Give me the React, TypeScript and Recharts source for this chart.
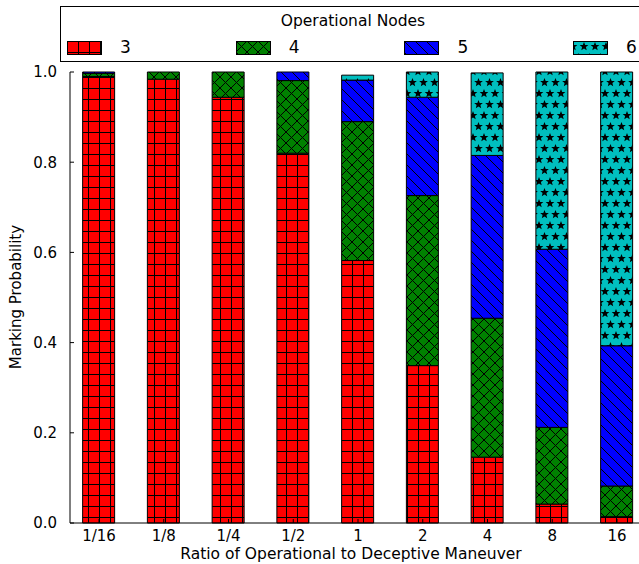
import React from 'react';
import { BarChart, Bar, XAxis, YAxis } from 'recharts';

const RATIOS = ['1/16', '1/8', '1/4', '1/2', '1', '2', '4', '8', '16'];
const NODES_3 = [0.99, 0.984, 0.944, 0.82, 0.582, 0.349, 0.146, 0.042, 0.014];
const NODES_4 = [0.007, 0.016, 0.056, 0.161, 0.308, 0.377, 0.308, 0.17, 0.068];
const NODES_5 = [0.003, 0, 0, 0.019, 0.092, 0.218, 0.361, 0.395, 0.311];
const NODES_6 = [0, 0, 0, 0, 0.011, 0.056, 0.183, 0.393, 0.607];
const Y_TICKS = [0, 0.2, 0.4, 0.6, 0.8, 1.0];
const SERIES = [
  { key: 'n3', name: '3', pattern: 'hatch3' },
  { key: 'n4', name: '4', pattern: 'hatch4' },
  { key: 'n5', name: '5', pattern: 'hatch5' },
  { key: 'n6', name: '6', pattern: 'hatch6' },
];

const data = RATIOS.map((label, i) => ({
  x: i,
  label,
  n3: NODES_3[i],
  n4: NODES_4[i],
  n5: NODES_5[i],
  n6: NODES_6[i],
}));

const FONT = '"DejaVu Sans", sans-serif';

const star = (cx: number, cy: number) => {
  const pts: string[] = [];
  for (let k = 0; k < 10; k++) {
    const r = k % 2 === 0 ? 4.6 : 2.0;
    const a = -Math.PI / 2 + (k * Math.PI) / 5;
    pts.push(`${(cx + r * Math.cos(a)).toFixed(2)},${(cy + r * Math.sin(a)).toFixed(2)}`);
  }
  return <polygon key={`${cx}-${cy}`} points={pts.join(' ')} fill="#000" />;
};

const Patterns = () => (
  <defs>
    <pattern id="hatch3" width="11" height="11" patternUnits="userSpaceOnUse">
      <rect width="11" height="11" fill="#ff0000" />
      <path d="M0 0.5H11M0.5 0V11" stroke="#000" strokeWidth="1" />
    </pattern>
    <pattern id="hatch4" width="11" height="11" patternUnits="userSpaceOnUse">
      <rect width="11" height="11" fill="#008000" />
      <path d="M0 0L11 11M11 0L0 11" stroke="#000" strokeWidth="1" />
    </pattern>
    <pattern id="hatch5" width="11" height="11" patternUnits="userSpaceOnUse">
      <rect width="11" height="11" fill="#0000ff" />
      <path d="M0 0L11 11M-2 9L2 13M9 -2L13 2" stroke="#000" strokeWidth="1" />
    </pattern>
    <pattern id="hatch6" width="11" height="22" patternUnits="userSpaceOnUse">
      <rect width="11" height="22" fill="#00bfbf" />
      {star(0, 5.5)}
      {star(11, 5.5)}
      {star(5.5, 16.5)}
      {star(0, 27.5)}
      {star(11, 27.5)}
      {star(5.5, -5.5)}
    </pattern>
  </defs>
);

const YTick = (props: any) => {
  const { x, y, payload } = props;
  const ax = x + 13;
  return (
    <g>
      <line x1={ax} x2={ax + 4} y1={y} y2={y} stroke="#000" />
      <text x={x} y={y} dy="0.36em" textAnchor="end" fontSize={15} fontFamily={FONT} fill="#000">
        {Number(payload.value).toFixed(1)}
      </text>
    </g>
  );
};

const RightTick = (props: any) => {
  const { x, y } = props;
  return <line x1={x - 4} x2={x} y1={y} y2={y} stroke="#000" />;
};

const XTick = (props: any) => {
  const { x, y, payload } = props;
  return (
    <g>
      <line x1={x} x2={x} y1={y - 7} y2={y - 11} stroke="#000" />
      <text x={x} y={y} dy="0.76em" textAnchor="middle" fontSize={15} fontFamily={FONT} fill="#000">
        {RATIOS[payload.value]}
      </text>
    </g>
  );
};

const TopTick = (props: any) => {
  const { x, y } = props;
  return <line x1={x} x2={x} y1={y} y2={y + 4} stroke="#000" />;
};

const LegendBox = () => (
  <div
    style={{
      position: 'absolute',
      left: 60,
      top: 6,
      width: 620,
      height: 56,
      border: '1px solid #000',
      background: '#fff',
      fontFamily: FONT,
      boxSizing: 'border-box',
    }}
  >
    <div style={{ position: 'absolute', left: 0, width: 584, top: 5, textAlign: 'center', fontSize: 15.5 }}>
      Operational Nodes
    </div>
    {SERIES.map((s, i) => (
      <div key={s.key} style={{ position: 'absolute', left: 6 + i * 168.7, top: 33, height: 18 }}>
        <svg width={36} height={15} style={{ position: 'absolute', left: 0, top: 1 }}>
          <rect x={0.5} y={0.5} width={34} height={13} fill={`url(#${s.pattern})`} stroke="#000" />
        </svg>
        <span style={{ position: 'absolute', left: 53, top: -3, fontSize: 17 }}>{s.name}</span>
      </div>
    ))}
  </div>
);

export default function App() {
  return (
    <div
      style={{
        position: 'absolute',
        left: 0,
        top: 0,
        width: 639,
        height: 564,
        overflow: 'hidden',
        background: '#fff',
      }}
    >
      <BarChart
        width={660}
        height={564}
        data={data}
        margin={{ top: 72, right: 18, bottom: 11, left: 0 }}
      >
        <Patterns />
        <XAxis
          xAxisId="bottom"
          type="number"
          dataKey="x"
          domain={[-0.448, 8.386]}
          ticks={[0, 1, 2, 3, 4, 5, 6, 7, 8]}
          allowDataOverflow
          height={30}
          tickSize={0}
          tickMargin={7}
          tick={<XTick />}
          axisLine={{ stroke: '#000' }}
        />
        <XAxis
          xAxisId="top"
          orientation="top"
          type="number"
          dataKey="x"
          domain={[-0.448, 8.386]}
          ticks={[0, 1, 2, 3, 4, 5, 6, 7, 8]}
          allowDataOverflow
          height={0}
          tickSize={0}
          tickMargin={0}
          tick={<TopTick />}
          axisLine={{ stroke: '#000' }}
        />
        <YAxis
          yAxisId="left"
          domain={[0, 1]}
          ticks={Y_TICKS}
          width={70}
          tickSize={0}
          tickMargin={13}
          tick={<YTick />}
          axisLine={{ stroke: '#000' }}
        />
        <YAxis
          yAxisId="right"
          orientation="right"
          domain={[0, 1]}
          ticks={Y_TICKS}
          width={0}
          tickSize={0}
          tickMargin={0}
          tick={<RightTick />}
          axisLine={{ stroke: '#000' }}
        />
        {SERIES.map((s) => (
          <Bar
            key={s.key}
            dataKey={s.key}
            name={s.name}
            stackId="a"
            xAxisId="bottom"
            yAxisId="left"
            barSize={32}
            fill={`url(#${s.pattern})`}
            stroke="#000"
            strokeWidth={1}
            isAnimationActive={false}
          />
        ))}
      </BarChart>
      <LegendBox />
      <div
        style={{
          position: 'absolute',
          left: 16,
          top: 297,
          transform: 'translate(-50%, -50%) rotate(-90deg)',
          whiteSpace: 'nowrap',
          fontFamily: FONT,
          fontSize: 15,
        }}
      >
        Marking Probability
      </div>
      <div
        style={{
          position: 'absolute',
          left: 351,
          top: 545,
          transform: 'translateX(-50%)',
          whiteSpace: 'nowrap',
          fontFamily: FONT,
          fontSize: 15.5,
        }}
      >
        Ratio of Operational to Deceptive Maneuver
      </div>
    </div>
  );
}
